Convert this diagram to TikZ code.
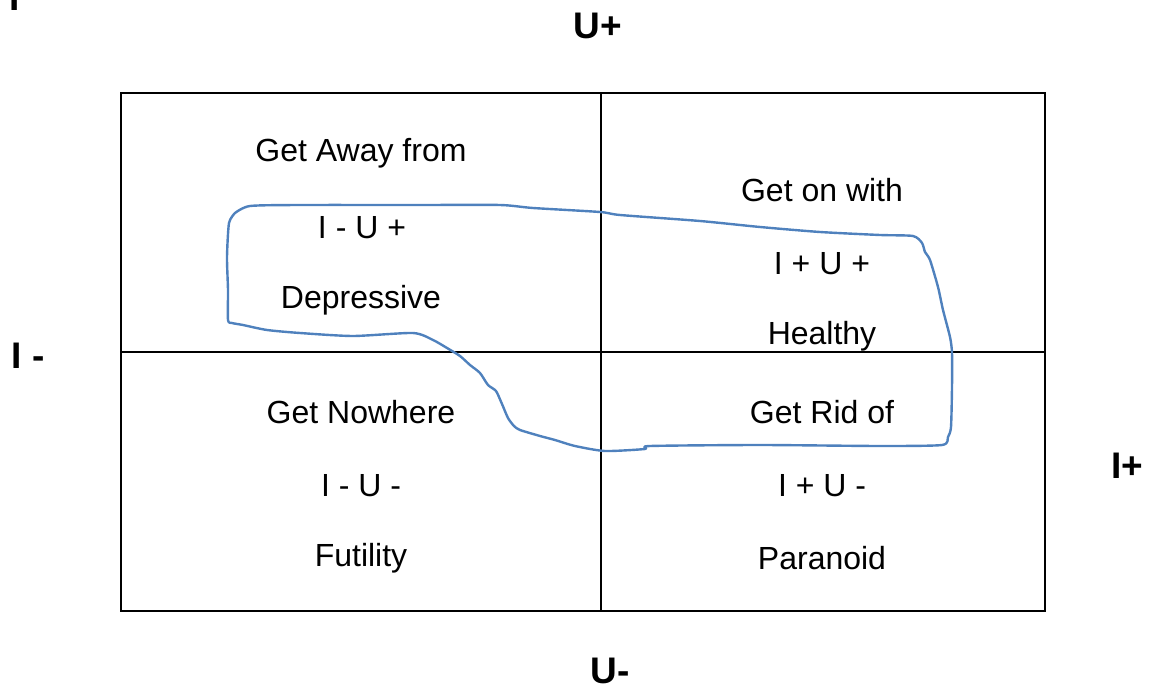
\documentclass[tikz,border=0pt]{standalone}
\usepackage{fontspec}
\setmainfont{Liberation Sans}
\usepackage{tikz}
\definecolor{loopblue}{RGB}{79,129,189}

\begin{document}
\begin{tikzpicture}[
x=0.5pt, y=-0.5pt,
 cell/.style = {inner sep=0pt, font=\fontsize{16}{19}\selectfont},% texts in the quadrants
 axis/.style = {inner sep=0pt, font=\fontsize{18.5}{22}\selectfont\bfseries},% labels of the axes
 grid/.style = {draw, line width=1pt},
 loop/.style = {draw=loopblue, line width=1.2pt, line join=round},
                    ]
\useasboundingbox (0,0) rectangle (1151,684);
% the four quadrants
\draw[grid] (121,93) rectangle (1045,611);
\draw[grid] (601,93) -- (601,611);
\draw[grid] (121,352) -- (1045,352);
% texts of the quadrants
\foreach \n/\x/\y/\t in {a1/361/153/Get Away from, a2/362/228/I - U +, a3/361/300/Depressive,
                         b1/822/190/Get on with, b2/822/264/I + U +, b3/822/336/Healthy,
                         c1/361/412/Get Nowhere, c2/361/486/I - U -, c3/361/558/Futility,
                         d1/822/412/Get Rid of, d2/822/486/I + U -, d3/822/558/Paranoid}
    \node[cell] (\n) at (\x,\y) {\t};
% axis labels
\node[axis] (uplus)  at (598,26)   {U+};
\node[axis] (uminus) at (610,671)  {U-};
\node[axis] (iminus) at (28,356)   {I -};
\node[axis] (iplus)  at (1127,466) {I+};
\node[axis, anchor=base] (itop) at (15,11) {I};
% hand drawn loop
\draw[loop] plot[smooth, tension=0.4] coordinates {
  (235,213) (250,206) (300,205) (420,205) (500,205) (533,208) (600,212) (620,215)
  (700,221) (760,227) (820,232) (880,235) (913,236) (922,243) (925,252) (930,260)
  (938,287) (943,310) (950,337) (952,353) (952,387) (951,427) (948,437) (942,445)
  (880,446) (760,445) (650,446) (645,449) (605,451) (575,446) (555,440) (540,436)
  (520,430) (514,426) (508,418) (502,404) (496,391) (488,385) (480,373) (470,365)
  (460,356) (447,348) (433,340) (413,333) (353,336) (300,333) (267,330) (243,325)
  (232,323) (228,320) (228,290) (227,257) (229,223) (235,213)};
\end{tikzpicture}
\end{document}
